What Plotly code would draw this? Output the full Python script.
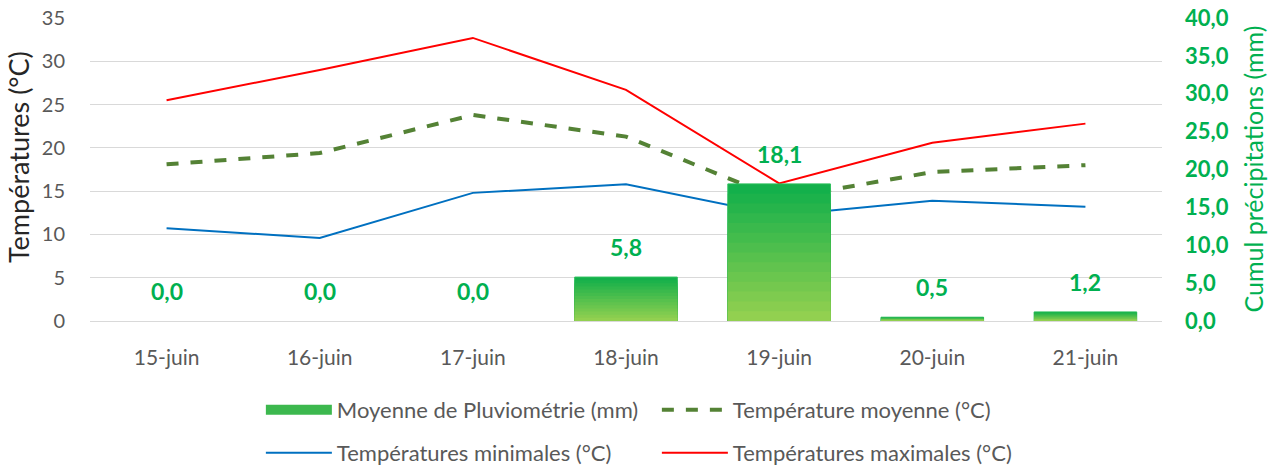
import plotly.graph_objects as go

dates = ["15-juin", "16-juin", "17-juin", "18-juin", "19-juin", "20-juin", "21-juin"]
pluie = [0.0, 0.0, 0.0, 5.8, 18.1, 0.5, 1.2]
t_moy = [18.1, 19.4, 23.8, 21.3, 14.1, 17.2, 18.0]
t_min = [10.7, 9.6, 14.8, 15.8, 12.2, 13.9, 13.2]
t_max = [25.5, 29.0, 32.7, 26.7, 15.9, 20.6, 22.8]
left_ticks = [0, 5, 10, 15, 20, 25, 30, 35]
right_ticks = [0, 5, 10, 15, 20, 25, 30, 35, 40]

FONT = "Lato"
GREEN = "#00b050"
GREY = "#595959"

fig = go.Figure()

# gradient bars built from layered overlay bars (dark top -> light bottom)
N = 14
top = (19, 176, 75)
bot = (146, 208, 80)
for k in range(N):
    f = 1 - k / N
    t = k / (N - 1)
    c = tuple(int(top[i] + (bot[i] - top[i]) * t) for i in range(3))
    fig.add_trace(go.Bar(
        x=dates, y=[v * f for v in pluie], yaxis="y2",
        marker=dict(color="rgb(%d,%d,%d)" % c,
                    line=dict(color="#2cbf5c",
                              width=[(1 if (k == 0 and v > 0) else 0) for v in pluie])),
        width=0.67, showlegend=False, hoverinfo="skip",
    ))
# legend entry for rain (wide green rectangle)
fig.add_trace(go.Scatter(
    x=[None], y=[None], mode="lines", name="Moyenne de Pluviométrie (mm)", yaxis="y2",
    line=dict(color="#3cb84e", width=12), legend="legend",
))

fig.add_trace(go.Scatter(x=dates, y=t_moy, mode="lines", name="Température moyenne (°C)",
                         line=dict(color="#548235", width=4, dash="dash"), legend="legend"))
fig.add_trace(go.Scatter(x=dates, y=t_min, mode="lines", name="Températures minimales (°C)",
                         line=dict(color="#0070c0", width=2), legend="legend2"))
fig.add_trace(go.Scatter(x=dates, y=t_max, mode="lines", name="Températures maximales (°C)",
                         line=dict(color="#ff0000", width=2), legend="legend2"))

for d, v in zip(dates, pluie):
    fig.add_annotation(x=d, y=v, yref="y2", text=("%.1f" % v).replace(".", ","),
                       showarrow=False, yanchor="bottom", yshift=14,
                       font=dict(family=FONT, size=23, color=GREEN, weight="bold"))

# axis titles as rotated annotations for exact placement
fig.add_annotation(text="Températures (°C)", textangle=-90, showarrow=False,
                   xref="paper", yref="paper", x=(18 - 90) / 1072, y=0.541,
                   xanchor="center", yanchor="middle",
                   font=dict(family=FONT, size=27, color="#262626"))
fig.add_annotation(text="Cumul précipitations (mm)", textangle=-90, showarrow=False,
                   xref="paper", yref="paper", x=(1252 - 90) / 1072, y=0.5,
                   xanchor="center", yanchor="middle",
                   font=dict(family=FONT, size=25, color=GREEN))

leg_common = dict(orientation="h", xref="container", yref="container",
                  x=0.516, xanchor="center", yanchor="middle",
                  entrywidth=315, entrywidthmode="pixels",
                  font=dict(size=22, color=GREY), itemwidth=66, traceorder="normal",
                  bgcolor="rgba(0,0,0,0)")

fig.update_layout(
    width=1273, height=468,
    margin=dict(l=90, r=111, t=18, b=147, autoexpand=False),
    plot_bgcolor="white", paper_bgcolor="white",
    barmode="overlay",
    font=dict(family=FONT, size=17, color=GREY),
    xaxis=dict(showgrid=False, showline=True, linecolor="#d9d9d9", linewidth=1,
               ticks="", ticklabelstandoff=18, tickfont=dict(size=21, color=GREY)),
    yaxis=dict(range=[0, 35], tickvals=left_ticks, showgrid=True, gridcolor="#d9d9d9",
               gridwidth=1, zeroline=False, ticks="", ticklabelstandoff=24,
               tickfont=dict(size=20, color=GREY)),
    yaxis2=dict(range=[0, 40], tickvals=right_ticks,
                ticktext=[("%.1f" % v).replace(".", ",") for v in right_ticks],
                overlaying="y", side="right", showgrid=False, zeroline=False, ticks="",
                ticklabelstandoff=22,
                tickfont=dict(size=22, color=GREEN, weight="bold")),
    legend=dict(y=1 - 410 / 468, **leg_common),
    legend2=dict(y=1 - 453 / 468, **leg_common),
)

fig.write_html("out.html", config={"displayModeBar": False},
               post_script="document.body.style.margin='0';")
